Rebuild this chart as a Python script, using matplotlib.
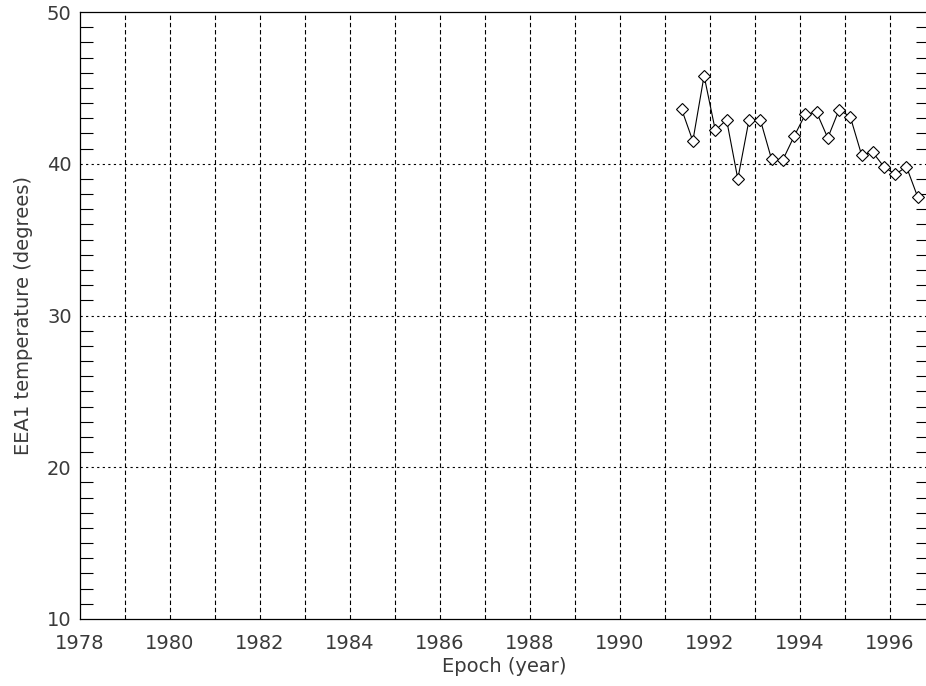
import numpy as np
import matplotlib
matplotlib.use("Agg")
import matplotlib.pyplot as plt
from matplotlib.ticker import MultipleLocator

# quarterly epochs
epoch = 1991.375 + 0.25 * np.arange(22)
temp = [43.6, 41.5, 45.8, 42.2, 42.9, 39.0, 42.9, 42.9, 40.3, 40.25, 41.8,
        43.25, 43.4, 41.7, 43.55, 43.1, 40.6, 40.75, 39.8, 39.3, 39.8, 37.8]

x_ticks = [1978, 1980, 1982, 1984, 1986, 1988, 1990, 1992, 1994, 1996]
y_ticks = [10, 20, 30, 40, 50]
grid_years = list(range(1979, 1997))
grid_temps = [20, 30, 40]

plt.rcParams["font.family"] = "DejaVu Sans"
txt_color = "#3a3a3a"
fs = 14

fig = plt.figure(figsize=(9.26, 6.86), dpi=100)
ax = fig.add_axes([80 / 926, 1 - 619 / 686, 1.0 - 80 / 926 + 0.002, (619 - 12) / 686])

for yr in grid_years:
    ax.axvline(yr, color="black", lw=0.8, ls=(0, (4, 2.5)), zorder=1)
for t in grid_temps:
    ax.axhline(t, color="black", lw=0.8, ls=(0, (2, 3)), zorder=1)

ax.plot(epoch, temp, color="black", lw=0.8, marker="D", ms=6,
        mfc="white", mec="black", mew=0.8, zorder=3)

ax.set_xlim(1978, 1996.85)
ax.set_ylim(10, 50)
ax.set_xticks(x_ticks)
ax.set_yticks(y_ticks)
ax.yaxis.set_minor_locator(MultipleLocator(1))
ax.tick_params(axis="x", which="both", length=0, pad=11, labelsize=fs, labelcolor=txt_color)
ax.tick_params(axis="y", which="major", length=0, pad=6, labelsize=fs, labelcolor=txt_color)
ax.tick_params(axis="y", which="minor", direction="in", length=9, width=0.8,
               left=True, right=True, color="black")

for s in ax.spines.values():
    s.set_linewidth(0.9)

ax.set_xlabel("Epoch (year)", fontsize=fs, color=txt_color, labelpad=3)
ax.set_ylabel("EEA1 temperature (degrees)", fontsize=fs, color=txt_color, labelpad=10)

fig.savefig("out.png", dpi=100)
